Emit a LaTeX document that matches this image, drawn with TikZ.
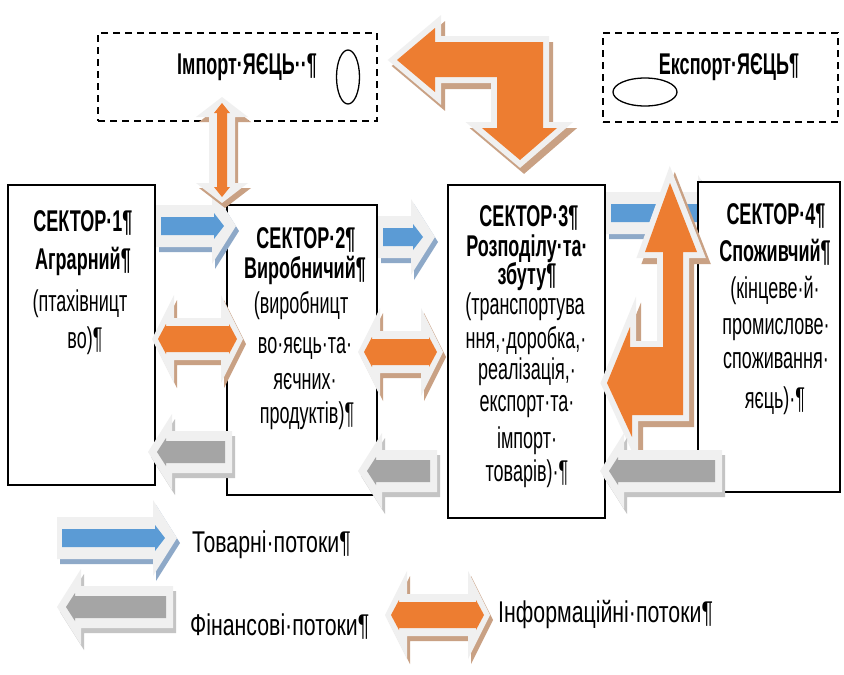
\documentclass[tikz,border=0pt]{standalone}
\usepackage{fontspec}
\setmainfont{Liberation Sans}
\newfontfamily\boxfnt{Liberation Sans}[FakeStretch=0.6]
\newfontfamily\legfnt{Liberation Sans}[FakeStretch=0.71]
\definecolor{rim}{HTML}{F0F0F0}
\definecolor{ora}{HTML}{ED7D31}
\definecolor{orash}{HTML}{C9A184}
\definecolor{blu}{HTML}{5B9BD5}
\definecolor{blush}{HTML}{8EA9C8}
\definecolor{gry}{HTML}{A5A5A5}
\definecolor{grysh}{HTML}{C4C4C4}
\tikzset{
  sector/.style={draw=black, line width=1.6pt, fill=white, inner sep=0pt},
  dashbox/.style={draw=black, line width=1.6pt, dash pattern=on 7pt off 5pt, inner sep=0pt},
  egg/.style={draw=black, line width=1.3pt},
  lbl/.style={font={\boxfnt\fontsize{30}{34}\selectfont}, inner sep=0pt, anchor=base},
  blbl/.style={font={\boxfnt\bfseries\fontsize{30}{34}\selectfont}, inner sep=0pt, anchor=base},
  leg/.style={font={\legfnt\fontsize{30}{34}\selectfont}, inner sep=0pt, anchor=base west},
  rimline/.style={draw=rim, line width=12pt, line join=miter, fill=rim},
}
% right-pointing flow arrow: x0, x1 (tip), y, fill, shadow
\newcommand{\flowR}[5]{%
  \begin{scope}[shift={(3,5)}]
    \fill[#5] (#1,{#3-21}) -- ({#2-24},{#3-21}) -- ({#2-24},{#3-38}) -- (#2,#3) -- ({#2-24},{#3+38}) -- ({#2-24},{#3+21}) -- (#1,{#3+21}) -- cycle;
  \end{scope}
  \fill[rim] (#1,{#3-21}) -- ({#2-24},{#3-21}) -- ({#2-24},{#3-38}) -- (#2,#3) -- ({#2-24},{#3+38}) -- ({#2-24},{#3+21}) -- (#1,{#3+21}) -- cycle;
  \fill[#4] ({#1+5},{#3-9}) -- ({#2-22},{#3-9}) -- ({#2-22},{#3-13}) -- ({#2-12},#3) -- ({#2-22},{#3+13}) -- ({#2-22},{#3+9}) -- ({#1+5},{#3+9}) -- cycle;
}
% left-pointing flow arrow: x0 (tip), x1 (tail), y, fill, shadow
\newcommand{\flowL}[5]{%
  \begin{scope}[shift={(3,5)}]
    \fill[#5] (#1,#3) -- ({#1+24},{#3-38}) -- ({#1+24},{#3-21}) -- (#2,{#3-21}) -- (#2,{#3+21}) -- ({#1+24},{#3+21}) -- ({#1+24},{#3+38}) -- cycle;
  \end{scope}
  \fill[rim] (#1,#3) -- ({#1+24},{#3-38}) -- ({#1+24},{#3-21}) -- (#2,{#3-21}) -- (#2,{#3+21}) -- ({#1+24},{#3+21}) -- ({#1+24},{#3+38}) -- cycle;
  \fill[#4] ({#1+9},#3) -- ({#1+18},{#3-14}) -- ({#1+18},{#3-11}) -- ({#2-7},{#3-11}) -- ({#2-7},{#3+11}) -- ({#1+18},{#3+11}) -- ({#1+18},{#3+14}) -- cycle;
}
% horizontal double flow arrow: x0 (left tip), x1 (right tip), y, fill, shadow
\newcommand{\flowD}[5]{%
  \begin{scope}[shift={(3,5)}]
    \fill[#5] (#1,#3) -- ({#1+22},{#3-44}) -- ({#1+22},{#3-21}) -- ({#2-22},{#3-21}) -- ({#2-22},{#3-44}) -- (#2,#3) -- ({#2-22},{#3+44}) -- ({#2-22},{#3+21}) -- ({#1+22},{#3+21}) -- ({#1+22},{#3+44}) -- cycle;
  \end{scope}
  \fill[rim] (#1,#3) -- ({#1+22},{#3-44}) -- ({#1+22},{#3-21}) -- ({#2-22},{#3-21}) -- ({#2-22},{#3-44}) -- (#2,#3) -- ({#2-22},{#3+44}) -- ({#2-22},{#3+21}) -- ({#1+22},{#3+21}) -- ({#1+22},{#3+44}) -- cycle;
  \fill[#4] ({#1+6},#3) -- ({#1+14},{#3-15}) -- ({#1+14},{#3-13}) -- ({#2-14},{#3-13}) -- ({#2-14},{#3-15}) -- ({#2-6},#3) -- ({#2-14},{#3+15}) -- ({#2-14},{#3+13}) -- ({#1+14},{#3+13}) -- ({#1+14},{#3+15}) -- cycle;
}
% vertical double flow arrow: x, y0 (top tip), y1 (bottom tip), fill, shadow
\newcommand{\flowV}[5]{%
  \begin{scope}[shift={(3,5)}]
    \fill[#5] (#1,#2) -- ({#1+26},{#2+20}) -- ({#1+13},{#2+20}) -- ({#1+13},{#3-20}) -- ({#1+26},{#3-20}) -- (#1,#3) -- ({#1-26},{#3-20}) -- ({#1-13},{#3-20}) -- ({#1-13},{#2+20}) -- ({#1-26},{#2+20}) -- cycle;
  \end{scope}
  \fill[rim] (#1,#2) -- ({#1+26},{#2+20}) -- ({#1+13},{#2+20}) -- ({#1+13},{#3-20}) -- ({#1+26},{#3-20}) -- (#1,#3) -- ({#1-26},{#3-20}) -- ({#1-13},{#3-20}) -- ({#1-13},{#2+20}) -- ({#1-26},{#2+20}) -- cycle;
  \fill[#4] (#1,{#2+6}) -- ({#1+8},{#2+16}) -- ({#1+5},{#2+16}) -- ({#1+5},{#3-16}) -- ({#1+8},{#3-16}) -- (#1,{#3-6}) -- ({#1-8},{#3-16}) -- ({#1-5},{#3-16}) -- ({#1-5},{#2+16}) -- ({#1-8},{#2+16}) -- cycle;
}
\begin{document}
\begin{tikzpicture}[x=1pt,y=-1pt]
\useasboundingbox (0,0) rectangle (844,675);
\fill[white] (0,0) rectangle (844,675);

% import / export boxes
\node[dashbox, minimum width=279pt, minimum height=88pt] (imp) at (237.5,77) {};
\node[dashbox, minimum width=235pt, minimum height=89pt] (exp) at (720.5,77.5) {};
\node[blbl] (impt) at (247,74) {Імпорт·ЯЄЦЬ··¶};
\node[blbl] (expt) at (729,74) {Експорт·ЯЄЦЬ¶};
\draw[egg] (348,77) ellipse [x radius=11.5pt, y radius=27pt];
\draw[egg] (645,92) ellipse [x radius=32pt, y radius=14pt];

% sectors 1-3
\node[sector, minimum width=147pt, minimum height=300pt] (s1) at (81.5,335) {};
\node[sector, minimum width=150pt, minimum height=290pt] (s2) at (302,350) {};
\node[sector, minimum width=157pt, minimum height=333pt] (s3) at (526.5,351.5) {};

% goods flow 3 -> 4 (under sector 4)
\flowR{606}{722}{213}{blu}{blush}

% sector 4
\node[sector, minimum width=142pt, minimum height=310pt] (s4) at (769,337) {};

% sector texts
\node[blbl] (t11) at (83,231) {СЕКТОР·1¶};
\node[blbl] (t12) at (83,269) {Аграрний¶};
\node[lbl]  (t13) at (80,311) {(птахівницт};
\node[lbl]  (t14) at (85,348) {во)¶};

\node[blbl] (t21) at (306,248) {СЕКТОР·2¶};
\node[blbl] (t22) at (305,278) {Виробничий¶};
\node[lbl]  (t23) at (301,313) {(виробницт};
\node[lbl]  (t24) at (305,353) {во·яєць·та·};
\node[lbl]  (t25) at (305,389) {яєчних·};
\node[lbl]  (t26) at (307,423) {продуктів)¶};

\node[blbl] (t31) at (529,226) {СЕКТОР·3¶};
\node[blbl] (t32) at (527,256) {Розподілу·та·};
\node[blbl] (t33) at (527,284) {збуту¶};
\node[lbl]  (t34) at (525,314) {(транспортува};
\node[lbl]  (t35) at (526,348) {ння,·доробка,·};
\node[lbl]  (t36) at (527,379) {реалізація,·};
\node[lbl]  (t37) at (527,411) {експорт·та·};
\node[lbl]  (t38) at (527,448) {імпорт·};
\node[lbl]  (t39) at (527,481) {товарів)·¶};

\node[blbl] (t41) at (776,224) {СЕКТОР·4¶};
\node[blbl] (t42) at (775,261) {Споживчий¶};
\node[lbl]  (t43) at (775,298) {(кінцеве·й·};
\node[lbl]  (t44) at (776,334) {промислове·};
\node[lbl]  (t45) at (776,368) {споживання·};
\node[lbl]  (t46) at (775,408) {яєць)·¶};

% flows between sectors
\flowR{156}{236}{226}{blu}{blush}
\flowR{378}{435}{237}{blu}{blush}
\flowD{152}{243}{339}{ora}{orash}
\flowD{358}{443}{352}{ora}{orash}
\flowL{148}{232}{452}{gry}{grysh}
\flowL{358}{437}{471}{gry}{grysh}
\flowV{222}{97}{203}{ora}{orash}

% big bent arrow (export -> import, down to sector 3)
\begin{scope}[shift={(4,6)}]
\filldraw[draw=orash, fill=orash, line width=12pt, line join=miter]
  (397,60) -- (435,28) -- (435,42) -- (543,42) -- (543,128) -- (557,128) -- (520,160) -- (482,128) -- (497,128) -- (497,77) -- (435,77) -- (435,92) -- cycle;
\end{scope}
\filldraw[rimline]
  (397,60) -- (435,28) -- (435,42) -- (543,42) -- (543,128) -- (557,128) -- (520,160) -- (482,128) -- (497,128) -- (497,77) -- (435,77) -- (435,92) -- cycle;
\fill[ora]
  (397,60) -- (435,28) -- (435,42) -- (543,42) -- (543,128) -- (557,128) -- (520,160) -- (482,128) -- (497,128) -- (497,77) -- (435,77) -- (435,92) -- cycle;

% left-up arrow between sector 3 and sector 4 / export
\begin{scope}[shift={(5,6)}]
\filldraw[draw=orash, fill=orash, line width=12pt, line join=miter]
  (670,183) -- (697,252) -- (683,252) -- (683,415) -- (632,415) -- (632,437) -- (607,383) -- (630,327) -- (630,347) -- (663,347) -- (663,252) -- (645,252) -- cycle;
\end{scope}
\filldraw[rimline]
  (670,183) -- (697,252) -- (683,252) -- (683,415) -- (632,415) -- (632,437) -- (607,383) -- (630,327) -- (630,347) -- (663,347) -- (663,252) -- (645,252) -- cycle;
\fill[ora]
  (670,183) -- (697,252) -- (683,252) -- (683,415) -- (632,415) -- (632,437) -- (607,383) -- (630,327) -- (630,347) -- (663,347) -- (663,252) -- (645,252) -- cycle;

% money flow 4 -> 3
\flowL{600}{722}{471}{gry}{grysh}

% legend
\flowR{57}{177}{538}{blu}{blush}
\flowL{57}{173}{607}{gry}{grysh}
\flowD{385}{490}{615}{ora}{orash}
\node[leg] (lg1) at (192,552) {Товарні·потоки¶};
\node[leg] (lg2) at (190,635) {Фінансові·потоки¶};
\node[leg] (lg3) at (498,622) {Інформаційні·потоки¶};
\end{tikzpicture}
\end{document}
